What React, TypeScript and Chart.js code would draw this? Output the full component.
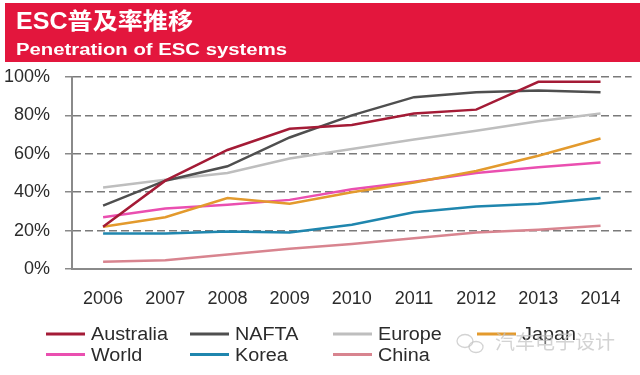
import React, { useEffect, useRef } from "react";
import { Chart, registerables } from "chart.js";

Chart.register(...registerables);

const years = ["2006", "2007", "2008", "2009", "2010", "2011", "2012", "2013", "2014"];
const australia = [22, 46, 62, 73, 75, 81, 83, 97.5, 97.5];
const nafta = [33, 46, 53.5, 68.5, 80, 89.5, 92, 93, 92];
const europe = [42.5, 46.5, 50, 57.5, 62.5, 67.5, 72, 77, 81];
const japan = [22, 27, 37, 34, 40, 45, 51, 59, 68];
const world = [27, 31.5, 33.5, 36, 41.5, 45.5, 50, 53, 55.5];
const korea = [18.5, 18.5, 19.5, 19, 23, 29.5, 32.5, 34, 37];
const china = [3.8, 4.5, 7.5, 10.5, 13, 16, 19, 20.5, 22.5];

const titleText = "ESC普及率推移";
const subtitleText = "Penetration of ESC systems";
const watermarkText = "汽车电子设计";

const seriesNames = ["Australia", "NAFTA", "Europe", "Japan", "World", "Korea", "China"];
const seriesData = [australia, nafta, europe, japan, world, korea, china];
const seriesColors = ["#A41B36", "#4F4F4F", "#BEBEBE", "#E39A2D", "#EA4FB0", "#1F86AE", "#D8848F"];

const FONT = "'Liberation Sans', Arial, 'Noto Sans CJK SC', sans-serif";

const headerPlugin = {
  id: "header",
  beforeDraw(chart: any) {
    const ctx = chart.ctx;
    ctx.save();
    ctx.fillStyle = "#fff";
    ctx.fillRect(0, 0, chart.width, chart.height);
    ctx.fillStyle = "#E3163D";
    ctx.fillRect(5, 3, 635, 59);
    ctx.fillStyle = "#ffffff";
    ctx.textBaseline = "alphabetic";
    ctx.textAlign = "left";
    const drawScaled = (text: string, font: string, x: number, y: number, w: number) => {
      ctx.font = font;
      const m = ctx.measureText(text).width;
      ctx.save();
      ctx.translate(x, y);
      ctx.scale(w / m, 1);
      ctx.fillText(text, 0, 0);
      ctx.restore();
    };
    drawScaled(titleText, "bold 23px " + FONT, 16, 29, 177);
    drawScaled(subtitleText, "bold 16px " + FONT, 16, 55, 271);
    ctx.restore();
  },
};

const legendPlugin = {
  id: "customLegend",
  afterDraw(chart: any) {
    const ctx = chart.ctx;
    ctx.save();
    const cols = [46, 190, 333, 477];
    const rows = [335.5, 356];
    ctx.font = "18px " + FONT;
    ctx.textBaseline = "middle";
    ctx.textAlign = "left";
    chart.data.datasets.forEach((ds: any, i: number) => {
      const c = i % 4;
      const r = Math.floor(i / 4);
      const x = cols[c];
      const y = rows[r];
      ctx.strokeStyle = ds.borderColor;
      ctx.lineWidth = 3;
      ctx.beginPath();
      ctx.moveTo(x, y - 1.5);
      ctx.lineTo(x + 39, y - 1.5);
      ctx.stroke();
      ctx.fillStyle = "#2b2b2b";
      const m = ctx.measureText(ds.label).width;
      const target = m * 1.1;
      ctx.save();
      ctx.translate(x + 45, y);
      ctx.scale(target / m, 1);
      ctx.fillText(ds.label, 0, 0);
      ctx.restore();
    });
    // watermark
    ctx.globalAlpha = 0.75;
    ctx.strokeStyle = "#c4c4c4";
    ctx.lineWidth = 1.3;
    ctx.beginPath();
    ctx.ellipse(465, 341, 8, 6.5, 0, 0, Math.PI * 2);
    ctx.stroke();
    ctx.beginPath();
    ctx.ellipse(476, 347, 7, 5.5, 0, 0, Math.PI * 2);
    ctx.stroke();
    ctx.fillStyle = "#c4c4c4";
    ctx.font = "19px 'Noto Sans CJK SC', sans-serif";
    ctx.textBaseline = "middle";
    const wm = ctx.measureText(watermarkText).width;
    ctx.save();
    ctx.translate(495, 342);
    ctx.scale(120 / wm, 1);
    ctx.fillText(watermarkText, 0, 0);
    ctx.restore();
    ctx.restore();
  },
};

export default function App() {
  const ref = useRef<HTMLCanvasElement | null>(null);
  useEffect(() => {
    document.body.style.margin = "0";
    if (!ref.current) return;
    const chart = new Chart(ref.current, {
      type: "line",
      data: {
        labels: years,
        datasets: seriesNames.map((name, i) => ({
          label: name,
          data: seriesData[i],
          borderColor: seriesColors[i],
          backgroundColor: seriesColors[i],
          borderWidth: 2.5,
          pointRadius: 0,
          tension: 0,
          fill: false,
        })),
      },
      options: {
        responsive: false,
        animation: false,
        layout: { padding: { left: 0, right: 8, top: 77, bottom: 0 } },
        plugins: {
          legend: { display: false },
          tooltip: { enabled: false },
          title: { display: false },
        },
        scales: {
          x: {
            offset: true,
            grid: { display: false, drawTicks: false, drawOnChartArea: false },
            border: { display: true, color: "#8a8a8a", width: 2 },
            ticks: {
              color: "#2b2b2b",
              font: { size: 18, family: FONT },
              padding: 19,
              maxRotation: 0,
              autoSkip: false,
            },
            afterFit: (s: any) => {
              s.height = 106;
            },
          },
          y: {
            min: 0,
            max: 100,
            ticks: {
              stepSize: 20,
              color: "#2b2b2b",
              font: { size: 18, family: FONT },
              padding: 15,
              callback: (v: any) => v + "%",
            },
            grid: {
              color: (c: any) => (c.tick && c.tick.value === 0 ? "rgba(0,0,0,0)" : "#7a7a7a"),
              lineWidth: 1.5,
              tickLength: 7,
              tickColor: "#8a8a8a",
              tickWidth: 1.5,
              tickBorderDash: [],
            },
            border: { display: true, color: "#8a8a8a", width: 2, dash: [8, 4] },
            afterFit: (s: any) => {
              s.width = 72;
            },
          },
        },
      },
      plugins: [headerPlugin, legendPlugin],
    });
    return () => chart.destroy();
  }, []);
  return (
    <div style={{ width: 640, height: 375, position: "relative" }}>
      <canvas ref={ref} width={640} height={375} style={{ display: "block", width: 640, height: 375 }} />
    </div>
  );
}
